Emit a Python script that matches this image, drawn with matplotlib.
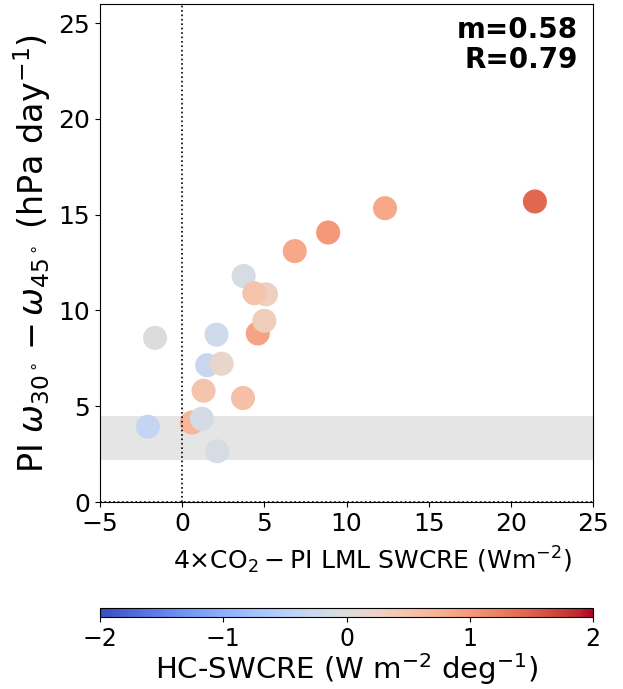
import matplotlib
matplotlib.use("Agg")
import matplotlib.pyplot as plt
import numpy as np

# Data
swcre_change = [3.74, 5.1, 4.39, 4.6, 5.0, -1.65, 2.09, 1.52, 2.4, 1.3, 3.7,
                -2.09, 0.59, 1.2, 2.13, 6.85, 8.88, 12.34, 21.46]
omega_diff = [11.8, 10.84, 10.9, 8.8, 9.46, 8.57, 8.74, 7.14, 7.22, 5.81, 5.43,
              3.93, 4.15, 4.35, 2.65, 13.1, 14.07, 15.34, 15.69]
hc_swcre = [-0.1, 0.3, 0.5, 0.9, 0.35, 0.0, -0.2, -0.3, 0.2, 0.5, 0.55,
            -0.35, 0.7, -0.15, -0.1, 0.85, 1.0, 0.85, 1.45]
band = [2.2, 4.5]
x_ticks = [-5, 0, 5, 10, 15, 20, 25]
y_ticks = [0, 5, 10, 15, 20, 25]
cbar_ticks = [-2, -1, 0, 1, 2]
stats_text = "m=0.58\nR=0.79"

fig = plt.figure(figsize=(6.23, 6.89), dpi=100)
ax = fig.add_axes([0.1605, 0.2714, 0.7915, 0.7228])

ax.axhspan(band[0], band[1], color='#e5e5e5', zorder=0, lw=0)
sc = ax.scatter(swcre_change, omega_diff, c=hc_swcre, cmap='coolwarm', vmin=-2, vmax=2,
                s=300, linewidths=0, zorder=2)
ax.axvline(0, color='k', ls=':', lw=1.2, zorder=3)
ax.axhline(0, color='k', ls=':', lw=1.2, zorder=3)

ax.set_xlim(-5, 25)
ax.set_ylim(0, 26)
ax.set_xticks(x_ticks)
ax.set_yticks(y_ticks)
ax.tick_params(labelsize=18)
ax.set_xlabel(r"4$\times$CO$_2-$PI LML SWCRE (Wm$^{-2}$)", fontsize=18)
ax.xaxis.set_label_coords(0.553, -0.085)
ax.set_ylabel(r"PI $\omega_{30^\circ}-\omega_{45^\circ}$ (hPa day$^{-1}$)", fontsize=24)
ax.text(0.97, 0.975, stats_text, transform=ax.transAxes, ha='right', va='top',
        fontsize=20, fontweight='bold', linespacing=1.05)

cax = fig.add_axes([0.1605, 0.1045, 0.7915, 0.0125])
cb = fig.colorbar(sc, cax=cax, orientation='horizontal', ticks=cbar_ticks)
cb.ax.tick_params(labelsize=17)
cb.set_label(r"HC-SWCRE (W m$^{-2}$ deg$^{-1}$)", fontsize=21, labelpad=0)

fig.savefig("out.png", dpi=100)
